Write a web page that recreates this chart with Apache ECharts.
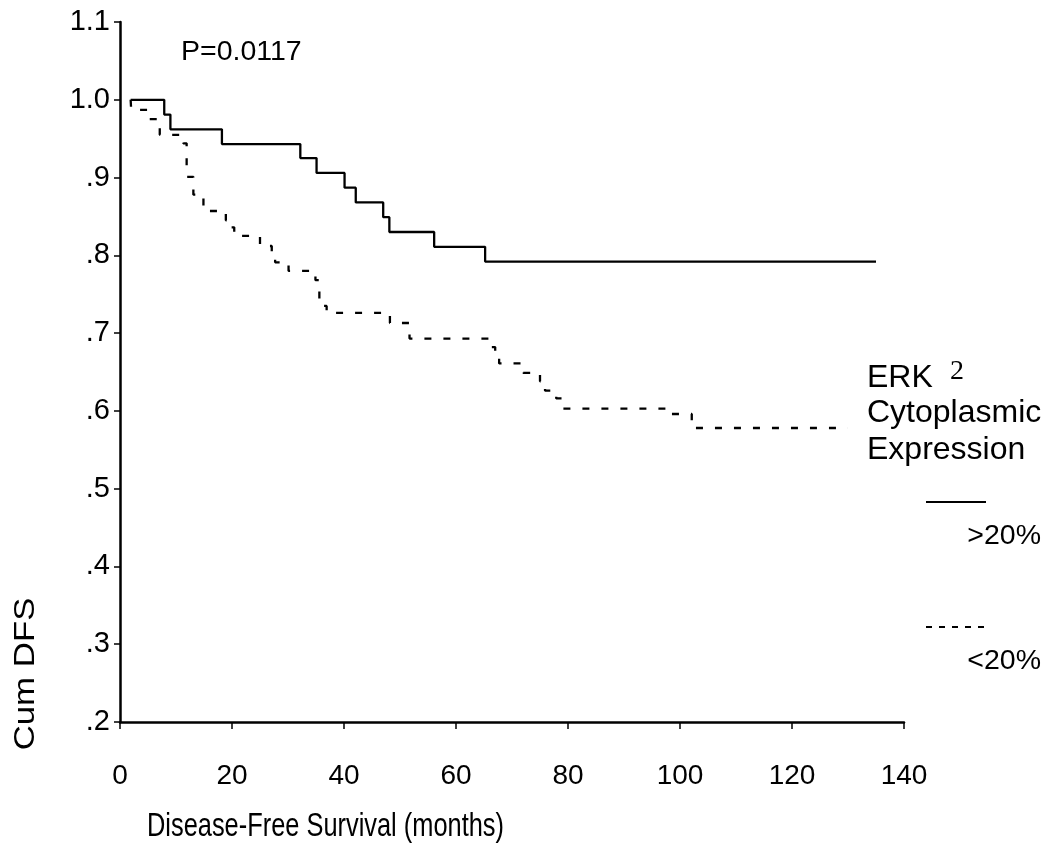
<!DOCTYPE html>
<html>
<head>
<meta charset="utf-8">
<script src="https://cdn.jsdelivr.net/npm/echarts@6/dist/echarts.min.js"></script>
<style>
html,body{margin:0;padding:0;background:#fff;}
#chart{width:1047px;height:843px;}
</style>
</head>
<body>
<div id="chart"></div>
<script>
// ---- data ----
// group ">20%" : event times (months) and cumulative DFS
const highTimes  = [1.9, 7.9, 9.0, 18.2, 32.2, 35.1, 40.1, 42.1, 47.0, 48.1, 56.1, 65.2, 135.0];
const highValues = [1.000, 0.981, 0.962, 0.943, 0.925, 0.906, 0.887, 0.868, 0.849, 0.830, 0.811, 0.792, 0.792];
// group "<20%"
const lowTimes  = [1.9, 2.0, 5.2, 7.1, 11.3, 11.9, 13.1, 14.9, 18.9, 19.9, 20.4, 25.0, 27.1, 27.7, 30.1, 34.9, 35.6, 36.9, 48.2, 51.7, 66.1, 67.0, 67.7, 72.0, 75.0, 75.9, 77.9, 78.9, 97.9, 102.1, 130.0];
const lowValues = [1.000, 0.987, 0.975, 0.955, 0.944, 0.901, 0.878, 0.857, 0.845, 0.836, 0.825, 0.812, 0.804, 0.791, 0.780, 0.768, 0.735, 0.726, 0.713, 0.693, 0.682, 0.672, 0.661, 0.649, 0.638, 0.626, 0.616, 0.603, 0.596, 0.578, 0.578];
const xTickLabels = ['0', '20', '40', '60', '80', '100', '120', '140'];
const yTickLabels = ['.2', '.3', '.4', '.5', '.6', '.7', '.8', '.9', '1.0', '1.1'];
const seriesNames = ['>20%', '<20%'];

const FONT = "'Liberation Sans', Arial, Helvetica, sans-serif";
const zip = (a, b) => a.map((t, i) => [t, b[i]]);

const chart = echarts.init(document.getElementById('chart'), null, {renderer: 'canvas'});
chart.setOption({
  animation: false,
  backgroundColor: '#fff',
  grid: {left: 120, right: 143, top: 22, bottom: 121, containLabel: false},
  xAxis: {
    type: 'value', min: 0, max: 140, interval: 20,
    axisLine: {show: true, onZero: false, lineStyle: {color: '#000', width: 2.5}},
    axisTick: {show: true, inside: false, length: 7, lineStyle: {color: '#000', width: 1.5}},
    axisLabel: {
      color: '#000', fontFamily: FONT, fontSize: 28, margin: 40,
      formatter: (v) => xTickLabels[Math.round(v / 20)]
    },
    splitLine: {show: false}
  },
  yAxis: {
    type: 'value', min: 0.2, max: 1.1, interval: 0.1,
    axisLine: {show: true, onZero: false, lineStyle: {color: '#000', width: 2.5}},
    axisTick: {show: true, inside: false, length: 6, lineStyle: {color: '#000', width: 1.5}},
    axisLabel: {
      color: '#000', fontFamily: FONT, fontSize: 29, margin: 10,
      formatter: (v) => yTickLabels[Math.round((v - 0.2) * 10)]
    },
    splitLine: {show: false}
  },
  series: [
    {
      name: seriesNames[0], type: 'line', step: 'end', symbol: 'none',
      data: zip(highTimes, highValues),
      lineStyle: {color: '#000', width: 2.3, type: 'solid'}
    },
    {
      name: seriesNames[1], type: 'line', step: 'end', symbol: 'none',
      data: zip(lowTimes, lowValues),
      lineStyle: {color: '#000', width: 2.3, type: [7, 12]}
    }
  ],
  graphic: [
    {type: 'text', x: 181, y: 52, style: {text: 'P=0.0117', font: "28.5px " + FONT, fill: '#000', align: 'left', verticalAlign: 'middle'}},
    {type: 'text', x: 26, y: 674, rotation: Math.PI / 2, scaleX: 1.2,
      style: {text: 'Cum DFS', font: "29px " + FONT, fill: '#000', align: 'center', verticalAlign: 'middle'}},
    {type: 'text', x: 147, y: 827, scaleY: 1.3,
      style: {text: 'Disease-Free Survival (months)', font: "25.4px " + FONT, fill: '#000', align: 'left', verticalAlign: 'middle'}},
    // legend block
    {type: 'text', x: 867, y: 378, style: {text: 'ERK', font: "32px " + FONT, fill: '#000', align: 'left', verticalAlign: 'middle'}},
    {type: 'text', x: 950, y: 372, style: {text: '2', font: "28px 'Liberation Serif', 'Times New Roman', serif", fill: '#000', align: 'left', verticalAlign: 'middle'}},
    {type: 'text', x: 867, y: 413, style: {text: 'Cytoplasmic', font: "32px " + FONT, fill: '#000', align: 'left', verticalAlign: 'middle'}},
    {type: 'text', x: 867, y: 450, style: {text: 'Expression', font: "32px " + FONT, fill: '#000', align: 'left', verticalAlign: 'middle'}},
    {type: 'line', shape: {x1: 926, y1: 502, x2: 986, y2: 502}, style: {stroke: '#000', lineWidth: 2}},
    {type: 'text', x: 1041, y: 536, style: {text: seriesNames[0], font: "28.5px " + FONT, fill: '#000', align: 'right', verticalAlign: 'middle'}},
    {type: 'line', shape: {x1: 926, y1: 627, x2: 986, y2: 627}, style: {stroke: '#000', lineWidth: 2, lineDash: [6, 7]}},
    {type: 'text', x: 1041, y: 661, style: {text: seriesNames[1], font: "28.5px " + FONT, fill: '#000', align: 'right', verticalAlign: 'middle'}}
  ]
});
</script>
</body>
</html>
